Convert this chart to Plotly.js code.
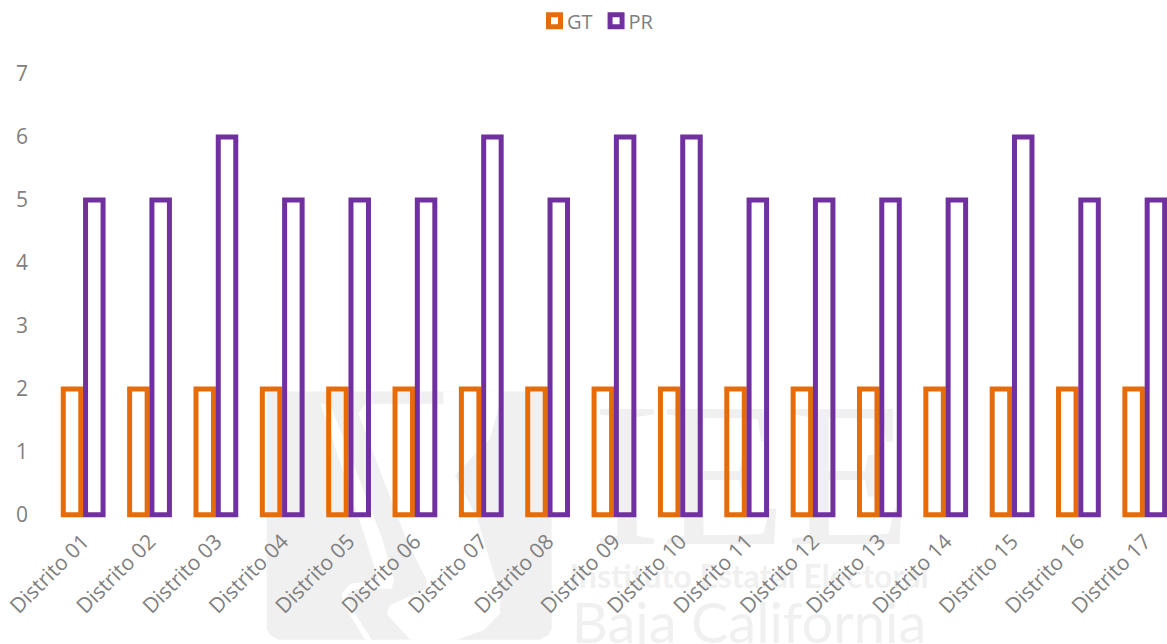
<!DOCTYPE html>
<html><head><meta charset="utf-8">
<script src="https://cdn.plot.ly/plotly-3.0.1.min.js"></script>
<style>html,body{margin:0;padding:0;background:#fff;overflow:hidden}</style></head>
<body><div id="chart" style="width:1167px;height:644px"></div>
<script>
const distritos = ["Distrito 01","Distrito 02","Distrito 03","Distrito 04","Distrito 05","Distrito 06","Distrito 07","Distrito 08","Distrito 09","Distrito 10","Distrito 11","Distrito 12","Distrito 13","Distrito 14","Distrito 15","Distrito 16","Distrito 17"];
const gt = [2,2,2,2,2,2,2,2,2,2,2,2,2,2,2,2,2];
const pr = [5,5,6,5,5,5,6,5,6,6,5,5,5,5,6,5,5];
const font = "'Open Sans', sans-serif";
const grey = "#7f7f7f";
const wm = "#f0f0f0";
const M = {l:50,r:0,t:73.5,b:126.35};
const PW = 1167-M.l-M.r, PH = 644-M.t-M.b;
const fx = p => (p-M.l)/PW, fy = p => (644-M.b-p)/PH;
// watermark outlines, in page pixels
const poly = (pts,fill) => ({type:"path",xref:"paper",yref:"paper",layer:"below",fillcolor:fill,line:{width:0},
  path:"M"+pts.map(p=>fx(p[0])+","+fy(p[1])).join("L")+"Z"});
const z = (a) => a.map(p=>[250+p[0]/3,380+p[1]/3]);
const boxPts = z([[50,33],[905,33],[905,745],[895,765],[870,778],[85,778],[60,765],[50,745]]);
const whiteA = z([[212,70],[240,70],[395,470],[432,600],[425,625],[320,625],[292,640],[300,675],[365,778],[345,778],[285,680],[275,640],[300,610],[385,600],[345,470]]);
const whiteB = z([[325,100],[345,70],[580,70],[580,33],[760,33],[720,175],[615,285],[680,410],[750,640],[750,700],[700,750],[620,778],[480,778],[410,700],[420,675],[530,625],[530,600],[470,480]]);
const label = (text,x,y,size,weight,family) => ({type:"rect",xref:"paper",yref:"paper",layer:"below",
  x0:fx(x-5),x1:fx(x+5),y0:fy(y+5),y1:fy(y-5),line:{width:0},fillcolor:"rgba(0,0,0,0)",
  label:{text,textposition:"middle center",font:{family,size,weight,color:wm}}});
const bar = (name, y, color) => ({type:"bar", name, x:distritos, y,
  marker:{color:"rgba(0,0,0,0)", line:{color, width:5}}, cliponaxis:false});
const gd = document.getElementById("chart");
Plotly.newPlot(gd,[bar("GT",gt,"#e66c09"),bar("PR",pr,"#7030a0")],{
  width:1167,height:644,margin:M,
  paper_bgcolor:"rgba(0,0,0,0)",plot_bgcolor:"rgba(0,0,0,0)",
  barmode:"group",bargap:0.328,bargroupgap:0.215,
  showlegend:true,
  legend:{orientation:"h",x:0.5,xref:"container",xanchor:"center",y:0.998,yref:"container",yanchor:"top",font:{family:font,size:20,color:grey},traceorder:"normal"},
  xaxis:{type:"category",range:[-0.5,16.335],tickangle:-45,showgrid:false,zeroline:false,showline:false,ticks:"",ticklabelstandoff:6,tickfont:{family:font,size:21,color:grey}},
  yaxis:{range:[-0.05,7],tickvals:[0,1,2,3,4,5,6,7],showgrid:false,zeroline:false,showline:false,ticks:"",ticklabelstandoff:21,tickfont:{family:font,size:21,color:grey}},
  shapes:[poly(boxPts,wm),poly(whiteA,"#ffffff"),poly(whiteB,"#ffffff"),
    label("IEE",752,452,205,400,"'Liberation Serif', serif"),
    label("Instituto Estatal Electoral",749,575,32,700,"Lato, sans-serif"),
    label("Baja California",749,620,56,400,"Lato, sans-serif")],
},{displayModeBar:false}).then(()=>{
  const shift=[21.5,12.5];
  gd.querySelectorAll(".legend .traces").forEach((t,i)=>{
    const m=/translate\(([-\d.]+),\s*([-\d.]+)\)/.exec(t.getAttribute("transform"));
    t.setAttribute("transform","translate("+(parseFloat(m[1])+shift[i])+","+m[2]+")");
    const txt=t.querySelector(".legendtext");
    txt.setAttribute("x",parseFloat(txt.getAttribute("x"))-7.5);
  });
});
</script></body></html>
